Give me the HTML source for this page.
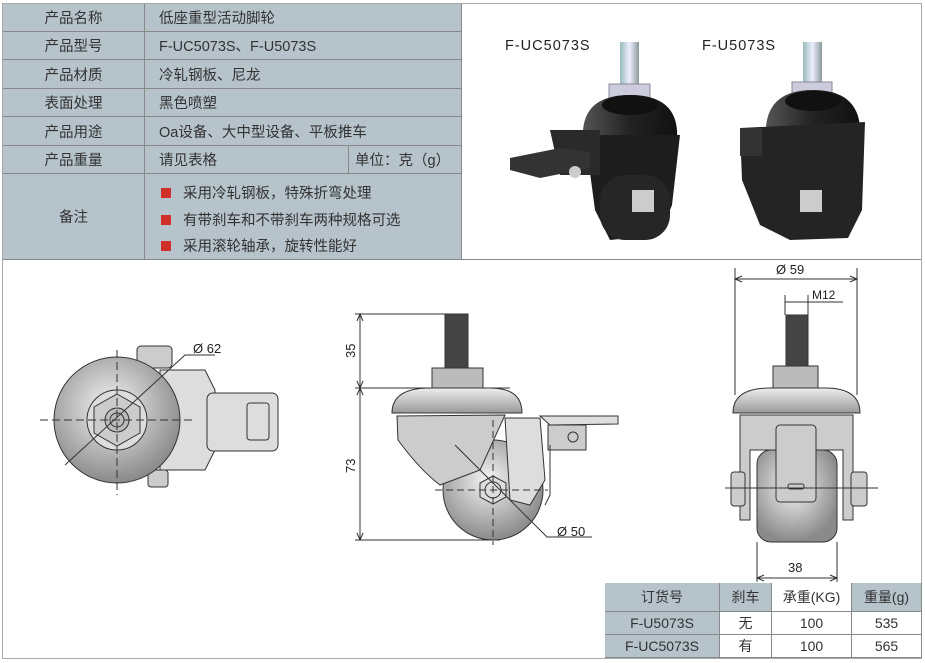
<!DOCTYPE html>
<html><head><meta charset="utf-8"><style>
body{margin:0;width:925px;height:663px;background:#fff;position:relative;overflow:hidden;font-family:"Liberation Sans","Noto Sans CJK SC",sans-serif;color:#333}
.frame{position:absolute;left:2px;top:3px;width:918px;height:654px;border:1px solid #a8a8a8}
.c{position:absolute;background:#b6c3cb;border-right:1px solid #888;border-bottom:1px solid #888;font-size:14.5px;box-sizing:border-box;display:flex;align-items:center}
.l{justify-content:center}
.v{padding-left:14px}
.sq{display:inline-block;width:10px;height:10px;background:#d0302a;margin-right:12px}
.t{position:absolute;font-size:14px;box-sizing:border-box;border-right:1px solid #888;border-bottom:1px solid #888;display:flex;align-items:center;justify-content:center;background:#b6c3cb}
.t.w{background:#fff}
</style></head><body>
<div class="frame"></div>
<!-- top table -->
<div class="c l" style="left:3px;top:4px;width:142px;height:28px">产品名称</div>
<div class="c v" style="left:145px;top:4px;width:317px;height:28px">低座重型活动脚轮</div>
<div class="c l" style="left:3px;top:32px;width:142px;height:28px">产品型号</div>
<div class="c v" style="left:145px;top:32px;width:317px;height:28px">F-UC5073S、F-U5073S</div>
<div class="c l" style="left:3px;top:60px;width:142px;height:29px">产品材质</div>
<div class="c v" style="left:145px;top:60px;width:317px;height:29px">冷轧钢板、尼龙</div>
<div class="c l" style="left:3px;top:89px;width:142px;height:28px">表面处理</div>
<div class="c v" style="left:145px;top:89px;width:317px;height:28px">黑色喷塑</div>
<div class="c l" style="left:3px;top:117px;width:142px;height:29px">产品用途</div>
<div class="c v" style="left:145px;top:117px;width:317px;height:29px">Oa设备、大中型设备、平板推车</div>
<div class="c l" style="left:3px;top:146px;width:142px;height:28px">产品重量</div>
<div class="c v" style="left:145px;top:146px;width:204px;height:28px">请见表格</div>
<div class="c" style="left:349px;top:146px;width:113px;height:28px;padding-left:6px">单位：克（g）</div>
<div class="c l" style="left:3px;top:174px;width:142px;height:86px">备注</div>
<div class="c" style="left:145px;top:174px;width:317px;height:86px;display:block;padding:7px 0 0 16px;line-height:26.5px">
<div><span class="sq"></span>采用冷轧钢板，特殊折弯处理</div>
<div><span class="sq"></span>有带刹车和不带刹车两种规格可选</div>
<div><span class="sq"></span>采用滚轮轴承，旋转性能好</div>
</div>
<div style="position:absolute;left:462px;top:259px;width:459px;height:1px;background:#888"></div>

<svg style="position:absolute;left:0;top:0" width="925" height="663">
<defs>
<radialGradient id="g1" cx="0.45" cy="0.4" r="0.6"><stop offset="0" stop-color="#f4f4f4"/><stop offset="1" stop-color="#8a8a8a"/></radialGradient>
<linearGradient id="gb" x1="0" x2="1"><stop offset="0" stop-color="#555"/><stop offset="0.5" stop-color="#222"/><stop offset="1" stop-color="#111"/></linearGradient>
<linearGradient id="gm" x1="0" x2="0" y1="0" y2="1"><stop offset="0" stop-color="#eee"/><stop offset="1" stop-color="#999"/></linearGradient>
<linearGradient id="gs" x1="0" x2="1"><stop offset="0" stop-color="#9bb"/><stop offset="0.5" stop-color="#eef"/><stop offset="1" stop-color="#899"/></linearGradient>
</defs>
<!-- photos -->
<text x="505" y="50" font-size="14.5" fill="#222" letter-spacing="1">F-UC5073S</text>
<text x="702" y="50" font-size="14.5" fill="#222" letter-spacing="1">F-U5073S</text>
<g>
<rect x="620" y="42" width="19" height="45" fill="url(#gs)"/>
<rect x="609" y="84" width="41" height="26" fill="#ccd" stroke="#889"/>
<path d="M583 140 Q580 95 630 95 Q680 95 677 140 Z" fill="url(#gb)"/>
<ellipse cx="630" cy="105" rx="28" ry="10" fill="#111"/>
<path d="M585 135 L680 135 L672 205 L660 235 L610 240 L595 210 Z" fill="#1d1d1d"/>
<rect x="600" y="175" width="70" height="65" rx="25" fill="#262626"/>
<rect x="632" y="190" width="22" height="22" fill="#ccc"/>
<path d="M550 130 L600 130 L600 175 L560 175 Z" fill="#2a2a2a"/>
<path d="M510 158 L560 148 L590 152 L590 168 L540 178 L510 170 Z" fill="#333"/>
<circle cx="575" cy="172" r="6" fill="#ccc"/>
</g>
<g>
<rect x="803" y="42" width="19" height="45" fill="url(#gs)"/>
<rect x="792" y="82" width="40" height="26" fill="#ccd" stroke="#889"/>
<path d="M766 140 Q762 90 813 90 Q864 90 860 140 Z" fill="url(#gb)"/>
<ellipse cx="813" cy="101" rx="28" ry="10" fill="#111"/>
<path d="M740 128 L865 122 L862 210 L848 238 L790 240 L760 225 L742 180 Z" fill="#242424"/>
<rect x="740" y="128" width="22" height="28" fill="#333"/>
<rect x="800" y="190" width="22" height="22" fill="#ccc"/>
</g>
<!-- left drawing -->
<g stroke="#333" stroke-width="1" fill="none">
<rect x="137" y="346" width="35" height="22" rx="4" fill="#ccc"/>
<rect x="148" y="470" width="20" height="17" rx="3" fill="#ccc"/>
<path d="M160 370 L205 370 L215 390 L215 450 L205 470 L160 470 Z" fill="#ddd"/>
<rect x="207" y="393" width="71" height="58" rx="6" fill="#ddd"/>
<rect x="247" y="403" width="22" height="37" rx="3"/>
<circle cx="117" cy="420" r="63" fill="url(#g1)"/>
<circle cx="117" cy="420" r="30" fill="#ddd"/>
<polygon points="117,394 140,407 140,433 117,446 94,433 94,407" fill="#ccc"/>
<circle cx="117" cy="420" r="12" fill="#bbb"/>
<circle cx="117" cy="420" r="7"/>
<path d="M40 420 H195 M117 350 V495" stroke-dasharray="8 4"/>
<path d="M65 465 L185 355 L215 355"/>
</g>
<text x="193" y="353" font-size="13" fill="#222">Ø 62</text>
<!-- middle drawing -->
<g stroke="#333" stroke-width="1" fill="none">
<path d="M360 314 V540 M355 314 H450 M355 388 H510 M355 540 H500"/>
<path d="M357 321 L360 314 L363 321 M357 381 L360 388 L363 381 M357 395 L360 388 L363 395 M357 533 L360 540 L363 533"/>
<rect x="445" y="314" width="23" height="54" fill="#444"/>
<rect x="432" y="368" width="51" height="20" fill="#bbb"/>
<circle cx="493" cy="490" r="50" fill="url(#g1)"/>
<path d="M397 416 L398 440 Q420 470 440 485 L480 470 L505 415 Z" fill="#ccc"/>
<path d="M392 413 Q392 388 430 388 L490 388 Q522 388 522 413 Z" fill="url(#gm)"/>
<path d="M505 418 L540 418 L545 480 L530 505 L510 500 Z" fill="#ddd"/>
<path d="M540 416 L618 416 L618 424 L550 425 Z" fill="#ddd"/>
<rect x="548" y="425" width="38" height="25" fill="#ccc"/>
<circle cx="573" cy="437" r="5"/>
<path d="M550 445 L550 495 L545 505"/>
<polygon points="493,476 506,483 506,497 493,504 480,497 480,483" fill="#ddd"/>
<circle cx="493" cy="490" r="8"/>
<path d="M435 490 H548 M493 420 V545" stroke-dasharray="7 4"/>
<path d="M455 445 L547 537 L592 537"/>
</g>
<text transform="translate(355,358) rotate(-90)" font-size="13" fill="#222">35</text>
<text transform="translate(355,473) rotate(-90)" font-size="13" fill="#222">73</text>
<text x="557" y="536" font-size="13" fill="#222">Ø 50</text>
<!-- right drawing -->
<g stroke="#333" stroke-width="1" fill="none">
<path d="M735 268 V395 M857 268 V395 M735 279 H857"/>
<path d="M742 276 L735 279 L742 282 M850 276 L857 279 L850 282"/>
<path d="M785 295 V315 M808 295 V315 M785 302 H843"/>
<rect x="786" y="315" width="22" height="51" fill="#444"/>
<rect x="773" y="366" width="45" height="22" fill="#bbb"/>
<rect x="757" y="450" width="80" height="92" rx="14" fill="url(#g1)"/>
<path d="M740 415 L853 415 L853 520 L843 520 L843 450 L750 450 L750 520 L740 520 Z" fill="#ccc"/>
<rect x="776" y="425" width="40" height="77" rx="4" fill="#ccc"/>
<rect x="788" y="484" width="16" height="5" rx="2"/>
<path d="M733 413 Q733 388 770 388 L825 388 Q860 388 860 413 Z" fill="url(#gm)"/>
<rect x="731" y="472" width="14" height="34" rx="3" fill="#ccc"/>
<rect x="851" y="472" width="16" height="34" rx="3" fill="#ccc"/>
<path d="M725 488 H878"/>
<path d="M757 542 V582 M837 542 V582 M757 578 H837"/>
<path d="M764 575 L757 578 L764 581 M830 575 L837 578 L830 581"/>
</g>
<text x="776" y="274" font-size="13" fill="#222">Ø 59</text>
<text x="812" y="299" font-size="12" fill="#222">M12</text>
<text x="788" y="572" font-size="13" fill="#222">38</text>
</svg>

<!-- bottom table -->
<div style="position:absolute;left:605px;top:583px;width:317px;height:75px;border-left:1px solid #888;border-top:1px solid #888;box-sizing:border-box"></div>
<div class="t" style="left:605px;top:583px;width:115px;height:29px">订货号</div>
<div class="t" style="left:720px;top:583px;width:52px;height:29px">刹车</div>
<div class="t w" style="left:772px;top:583px;width:80px;height:29px">承重(KG)</div>
<div class="t" style="left:852px;top:583px;width:70px;height:29px">重量(g)</div>
<div class="t" style="left:605px;top:612px;width:115px;height:23px">F-U5073S</div>
<div class="t w" style="left:720px;top:612px;width:52px;height:23px">无</div>
<div class="t w" style="left:772px;top:612px;width:80px;height:23px">100</div>
<div class="t w" style="left:852px;top:612px;width:70px;height:23px">535</div>
<div class="t" style="left:605px;top:635px;width:115px;height:23px">F-UC5073S</div>
<div class="t w" style="left:720px;top:635px;width:52px;height:23px">有</div>
<div class="t w" style="left:772px;top:635px;width:80px;height:23px">100</div>
<div class="t w" style="left:852px;top:635px;width:70px;height:23px">565</div>
</body></html>
